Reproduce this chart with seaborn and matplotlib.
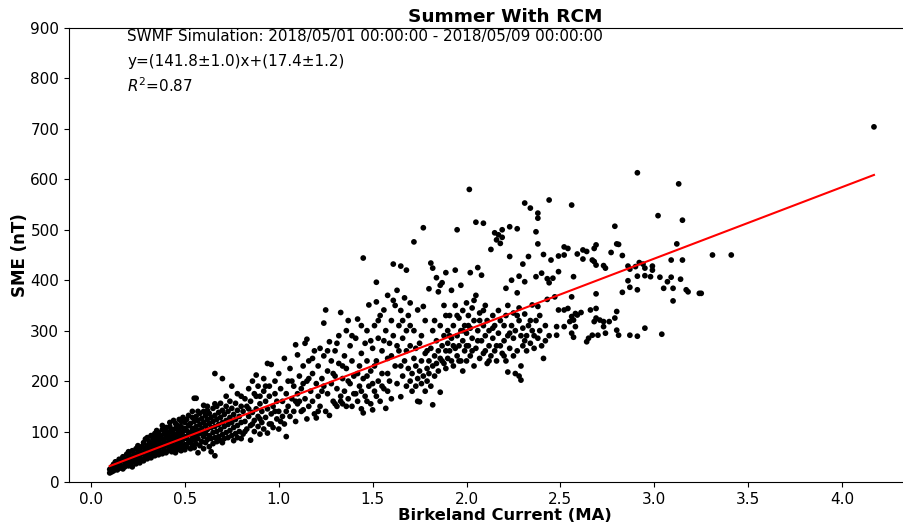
import numpy as np
import pandas as pd
import matplotlib
matplotlib.use("Agg")
import matplotlib.pyplot as plt
import seaborn as sns

# ---- data (Birkeland current in MA, SME in nT) ----
band_pts = [
    (0.10,18),(0.10,25),(0.11,30),(0.11,20),(0.12,22),(0.12,35),(0.13,28),(0.13,40),(0.14,24),(0.14,33),(0.15,45),(0.15,27),(0.15,36),
    (0.16,30),(0.16,42),(0.17,26),(0.17,50),(0.18,35),(0.18,45),(0.18,30),(0.19,55),(0.19,38),(0.20,32),(0.20,48),(0.20,60),(0.20,40),
    (0.21,35),(0.21,52),(0.22,44),(0.22,62),(0.22,30),(0.23,40),(0.23,56),(0.24,48),(0.24,66),(0.24,36),(0.25,42),(0.25,58),(0.25,72),
    (0.26,38),(0.26,50),(0.26,64),(0.27,45),(0.27,70),(0.27,56),(0.28,42),(0.28,60),(0.28,78),(0.29,50),(0.29,68),(0.29,85),(0.30,46),(0.30,58),(0.30,72),(0.30,88),
    (0.31,52),(0.31,66),(0.31,80),(0.32,48),(0.32,62),(0.32,76),(0.32,92),(0.33,56),(0.33,70),(0.33,86),(0.34,52),(0.34,64),(0.34,80),(0.34,96),(0.35,58),(0.35,74),(0.35,90),(0.35,102),
    (0.36,54),(0.36,68),(0.36,84),(0.36,98),(0.37,60),(0.37,76),(0.37,92),(0.38,56),(0.38,70),(0.38,86),(0.38,104),(0.38,112),(0.39,64),(0.39,80),(0.39,96),(0.40,58),(0.40,72),(0.40,88),(0.40,108),(0.40,100),
    (0.41,62),(0.41,78),(0.41,94),(0.42,68),(0.42,84),(0.42,100),(0.42,110),(0.42,118),(0.43,60),(0.43,74),(0.43,90),(0.43,104),(0.44,66),(0.44,82),(0.44,96),(0.44,122),(0.45,58),(0.45,72),(0.45,88),(0.45,106),(0.45,116),
    (0.46,64),(0.46,80),(0.46,96),(0.46,112),(0.47,70),(0.47,86),(0.47,102),(0.47,124),(0.48,62),(0.48,76),(0.48,92),(0.48,110),(0.48,120),(0.49,68),(0.49,84),(0.49,100),(0.49,128),(0.50,74),(0.50,90),(0.50,106),(0.50,118),(0.50,64),
    (0.51,70),(0.51,86),(0.51,102),(0.51,124),(0.52,78),(0.52,94),(0.52,112),(0.52,132),(0.53,66),(0.53,82),(0.53,98),(0.53,116),(0.54,74),(0.54,90),(0.54,106),(0.54,128),(0.54,140),(0.55,68),(0.55,84),(0.55,100),(0.55,120),(0.55,166),
    (0.56,76),(0.56,92),(0.56,110),(0.56,130),(0.56,166),(0.57,58),(0.57,86),(0.57,102),(0.57,122),(0.57,140),(0.58,72),(0.58,96),(0.58,114),(0.58,136),(0.59,80),(0.59,106),(0.59,126),(0.60,66),(0.60,90),(0.60,118),(0.60,140),(0.60,100),(0.60,152),
    (0.61,78),(0.61,96),(0.61,112),(0.61,132),(0.62,84),(0.62,104),(0.62,124),(0.62,142),(0.62,150),(0.63,70),(0.63,92),(0.63,116),(0.63,136),(0.64,60),(0.64,86),(0.64,108),(0.64,128),(0.65,76),(0.65,98),(0.65,120),(0.65,146),(0.66,52),(0.66,215),
    (0.66,88),(0.66,110),(0.66,132),(0.66,155),(0.67,80),(0.67,100),(0.67,124),(0.67,150),(0.68,90),(0.68,114),(0.68,138),(0.69,82),(0.69,104),(0.69,128),(0.69,156),(0.70,94),(0.70,118),(0.70,142),(0.70,78),(0.70,205),
    (0.71,86),(0.71,110),(0.71,134),(0.72,98),(0.72,122),(0.72,150),(0.72,170),(0.73,88),(0.73,114),(0.73,140),(0.74,102),(0.74,128),(0.74,160),(0.75,92),(0.75,118),(0.75,146),(0.75,190),(0.76,82),(0.76,108),(0.76,134),
    (0.77,96),(0.77,124),(0.77,156),(0.78,88),(0.78,112),(0.78,142),(0.78,175),(0.79,100),(0.79,130),(0.80,86),(0.80,118),(0.80,150),(0.80,170),
]
low_mid_pts = [
    (0.81,95),(0.81,140),(0.82,120),(0.82,165),(0.82,100),(0.83,105),(0.83,150),(0.84,130),(0.84,185),(0.84,145),(0.85,83),(0.85,112),(0.85,160),(0.86,138),(0.86,200),(0.86,115),
    (0.87,100),(0.87,122),(0.87,175),(0.88,145),(0.88,212),(0.88,170),(0.89,110),(0.89,130),(0.89,190),(0.90,95),(0.90,155),(0.90,170),(0.90,125),(0.91,118),(0.91,140),(0.92,105),
    (0.92,180),(0.92,205),(0.93,128),(0.93,160),(0.93,190),(0.94,97),(0.94,235),(0.94,145),(0.95,115),(0.95,190),(0.95,170),(0.96,233),(0.96,135),(0.96,115),(0.97,150),(0.97,108),
    (0.98,175),(0.98,200),(0.98,140),(0.99,125),(0.99,160),(1.00,140),(1.00,215),(1.00,105),(1.01,185),(1.01,120),(1.02,130),(1.02,160),(1.03,245),(1.03,115),(1.04,90),(1.04,175),
    (1.04,140),(1.05,150),(1.05,200),(1.06,130),(1.06,225),(1.07,165),(1.07,200),(1.08,140),(1.08,190),(1.09,272),(1.09,120),(1.09,160),(1.10,252),(1.10,175),(1.10,155),
    (1.11,210),(1.11,160),(1.12,140),(1.12,185),(1.13,143),(1.13,230),(1.13,195),(1.14,165),(1.14,275),(1.15,283),(1.15,200),(1.15,125),(1.16,150),(1.16,240),(1.16,205),(1.17,180),
    (1.18,215),(1.18,160),(1.18,245),(1.19,260),(1.19,135),(1.20,127),(1.20,195),(1.21,170),(1.21,230),(1.21,140),(1.22,265),(1.22,150),(1.23,205),(1.23,180),(1.24,315),(1.24,250),
    (1.24,190),(1.25,341),(1.25,140),(1.26,220),(1.26,175),(1.26,260),(1.27,278),(1.27,132),(1.28,195),(1.28,240),(1.29,160),(1.29,215),(1.30,260),(1.30,210),(1.30,155),(1.31,150),
    (1.31,185),(1.31,275),(1.32,235),(1.32,290),(1.33,336),(1.33,170),(1.33,160),(1.34,205),(1.34,155),(1.34,230),(1.35,250),(1.35,180),(1.36,225),(1.36,300),(1.36,150),(1.37,320),
    (1.37,165),(1.37,200),(1.38,195),(1.38,270),(1.39,150),(1.39,240),(1.39,290),(1.40,210),(1.40,175),(1.41,285),(1.41,175),(1.42,323),(1.42,160),(1.42,215),(1.43,230),(1.43,190),
    (1.44,255),(1.44,145),(1.44,180),(1.44,310),(1.45,444),(1.45,137),(1.45,205),(1.46,275),(1.46,170),(1.47,240),(1.47,300),(1.47,160),(1.47,210),(1.48,351),(1.48,190),
    (1.49,220),(1.49,155),(1.49,280),(1.50,265),(1.50,143),(1.50,195),
]
upper_mid_pts = [
    (1.51,310),(1.51,180),(1.51,230),(1.52,357),(1.52,396),(1.52,240),(1.52,170),(1.53,200),(1.53,285),(1.53,320),(1.54,160),(1.54,330),(1.55,260),(1.55,215),(1.55,190),(1.56,341),
    (1.56,185),(1.56,280),(1.57,146),(1.57,300),(1.58,245),(1.58,370),(1.58,180),(1.58,215),(1.59,275),(1.59,200),(1.60,320),(1.60,165),(1.60,250),(1.61,432),(1.61,290),(1.61,360),
    (1.62,230),(1.62,350),(1.63,380),(1.63,195),(1.63,270),(1.64,310),(1.64,260),(1.65,169),(1.65,428),(1.65,340),(1.65,230),(1.66,285),(1.66,210),(1.66,320),(1.67,365),(1.67,240),
    (1.68,420),(1.68,300),(1.68,190),(1.68,260),(1.69,330),(1.69,225),(1.70,270),(1.70,355),(1.70,200),(1.70,310),
    (1.71,215),(1.71,180),(1.72,476),(1.72,245),(1.72,300),(1.73,190),(1.73,230),(1.73,265),(1.74,341),(1.74,205),(1.74,160),(1.75,159),(1.75,220),(1.75,275),(1.76,195),(1.76,240),
    (1.76,290),(1.77,504),(1.77,348),(1.77,210),(1.78,180),(1.78,255),(1.78,320),(1.79,225),(1.79,200),(1.79,260),(1.80,383),(1.80,240),(1.80,215),(1.81,434),(1.81,265),(1.81,190),
    (1.82,153),(1.82,424),(1.82,230),(1.82,300),(1.83,250),(1.83,210),(1.83,320),(1.84,405),(1.84,280),(1.84,235),(1.85,377),(1.85,260),(1.85,220),(1.86,178),(1.86,390),(1.86,245),
    (1.86,310),(1.87,395),(1.87,270),(1.87,240),(1.88,235),(1.88,290),(1.88,350),(1.89,260),(1.89,415),(1.89,225),(1.89,330),(1.90,300),(1.90,245),(1.90,275),
    (1.91,330),(1.91,260),(1.91,290),(1.92,285),(1.92,240),(1.92,380),(1.93,310),(1.93,230),(1.93,270),(1.94,265),(1.94,350),(1.94,420),(1.95,500),(1.95,290),(1.95,250),(1.95,330),
    (1.96,325),(1.96,270),(1.96,240),(1.97,240),(1.97,300),(1.97,390),(1.98,280),(1.98,340),(1.98,220),(1.98,300),(1.99,260),(1.99,310),(2.00,295),(2.00,355),(2.00,240),(2.00,270),
    (2.01,270),(2.01,330),(2.01,310),(2.015,580),(2.02,415),(2.02,250),(2.02,305),(2.03,285),(2.03,345),(2.03,260),(2.04,230),(2.04,320),(2.04,360),(2.05,515),(2.05,265),(2.05,370),
    (2.06,300),(2.06,425),(2.06,280),(2.07,245),(2.07,335),(2.07,320),(2.08,280),(2.08,410),(2.09,513),(2.09,310),(2.09,255),(2.09,340),(2.10,350),(2.10,290),(2.10,260),
]
high_pts = [
    (2.11,235),(2.11,320),(2.12,270),(2.12,300),(2.12,240),(2.13,461),(2.13,250),(2.14,330),(2.14,285),(2.14,305),(2.15,494),(2.15,260),(2.15,310),(2.16,480),(2.16,240),(2.16,270),
    (2.17,490),(2.17,295),(2.17,340),(2.18,473),(2.18,270),(2.18,320),(2.19,500),(2.19,485),(2.19,255),(2.20,310),(2.20,280),(2.20,250),(2.21,384),(2.21,330),(2.21,240),(2.22,290),
    (2.22,350),(2.22,218),(2.23,506),(2.23,447),(2.23,265),(2.23,295),(2.24,400),(2.24,310),(2.25,285),(2.25,335),(2.25,250),(2.26,215),(2.26,300),(2.27,502),(2.27,375),(2.27,260),
    (2.27,330),(2.28,408),(2.28,345),(2.28,320),(2.28,210),(2.29,290),(2.29,230),(2.29,202),(2.30,432),(2.30,305),(2.30,270),
    (2.31,553),(2.31,397),(2.31,333),(2.31,280),(2.32,290),(2.32,260),(2.33,447),(2.33,310),(2.34,543),(2.34,275),(2.34,320),(2.35,351),(2.35,300),(2.36,265),(2.36,290),(2.37,496),
    (2.37,407),(2.37,320),(2.38,533),(2.38,523),(2.38,472),(2.38,348),(2.38,285),(2.39,300),(2.39,330),(2.40,414),(2.40,270),(2.41,451),(2.41,245),(2.42,310),(2.42,280),(2.43,403),
    (2.43,362),(2.44,395),(2.44,559),(2.44,290),(2.45,440),
    (2.56,549),(2.52,466),(2.54,463),(2.62,460),(2.64,457),(2.69,470),(2.68,463),(2.49,448),(2.52,450),(2.59,452),(2.62,442),(2.67,440),(2.68,437),(2.69,430),(2.73,429),
    (2.74,424),(2.77,455),(2.79,507),(2.80,472),(2.81,471),(2.83,449),(2.57,407),(2.49,417),(2.46,404),(2.56,367),(2.47,367),(2.69,373),(2.83,376),
    (2.49,341),(2.52,341),(2.54,344),(2.58,334),(2.56,328),(2.57,321),(2.59,331),(2.61,336),(2.55,318),(2.58,308),(2.48,308),(2.52,308),(2.69,344),(2.66,341),(2.69,325),
    (2.68,318),(2.71,321),(2.73,308),(2.73,318),(2.76,318),(2.80,338),(2.79,325),(2.80,301),(2.81,291),(2.48,291),(2.56,295),(2.57,287),(2.64,278),(2.65,285),(2.67,291),
    (2.70,291),(2.74,295),
]
tail_pts = [
    (2.86,428),(2.87,422),(2.90,427),(2.92,435),(2.94,432),(2.95,424),(2.99,428),(2.99,420),(2.86,399),(2.87,386),(2.91,381),(2.91,408),(2.95,409),(2.98,407),(3.03,406),
    (3.07,397),(3.09,406),(3.14,402),(3.05,384),(3.10,384),(3.17,381),(3.18,377),(3.24,374),(3.25,374),(3.10,359),(2.87,291),(2.91,289),(2.95,305),(3.04,293),(2.91,613),
    (3.13,591),(3.02,528),(3.15,519),(3.12,472),(3.31,450),(3.41,450),(3.15,440),(3.09,440),(4.17,704),
]

fit_slope = 141.8
fit_intercept = 17.4
fit_range = [0.10, 4.17]

title = "Summer With RCM"
info_lines = ["SWMF Simulation: 2018/05/01 00:00:00 - 2018/05/09 00:00:00",
              "y=(141.8±1.0)x+(17.4±1.2)",
              r"$R^2$=0.87"]
x_ticks = [0.0, 0.5, 1.0, 1.5, 2.0, 2.5, 3.0, 3.5, 4.0]
y_ticks = [0, 100, 200, 300, 400, 500, 600, 700, 800, 900]

# ---- build ----
all_pts = band_pts + low_mid_pts + upper_mid_pts + high_pts + tail_pts
df = pd.DataFrame(all_pts, columns=["current", "sme"])
fit_x = np.array(fit_range)
fit_df = pd.DataFrame({"current": fit_x, "sme": fit_slope * fit_x + fit_intercept})

plt.rcParams["font.family"] = ["DejaVu Sans"]
fig = plt.figure(figsize=(9.04, 5.27), dpi=100)
ax = fig.add_axes([69 / 904, 45 / 527, (941 - 69) / 904, 454 / 527])

sns.scatterplot(data=df, x="current", y="sme", ax=ax, color="black", s=17,
                linewidth=0, edgecolor="none", zorder=2)
sns.lineplot(data=fit_df, x="current", y="sme", ax=ax, color="red", linewidth=1.5, zorder=3)

ax.set_xlim(-0.117, 4.527)
ax.set_ylim(0, 900)
ax.set_xticks(x_ticks)
ax.set_xticklabels([f"{t:.1f}" for t in x_ticks])
ax.set_yticks(y_ticks)
ax.tick_params(labelsize=11)
ax.spines["right"].set_visible(False)
ax.set_xlabel("Birkeland Current (MA)", fontsize=11.8, fontweight="bold", labelpad=1)
ax.set_ylabel("SME (nT)", fontsize=12, fontweight="bold", labelpad=1)
ax.set_title(title, fontsize=13.3, fontweight="bold", pad=4)

for yfrac, txt in zip([0.982, 0.927, 0.872], info_lines):
    ax.text(0.067, yfrac, txt, transform=ax.transAxes, fontsize=10.9, va="center", ha="left")

fig.savefig("out.png", dpi=100)
